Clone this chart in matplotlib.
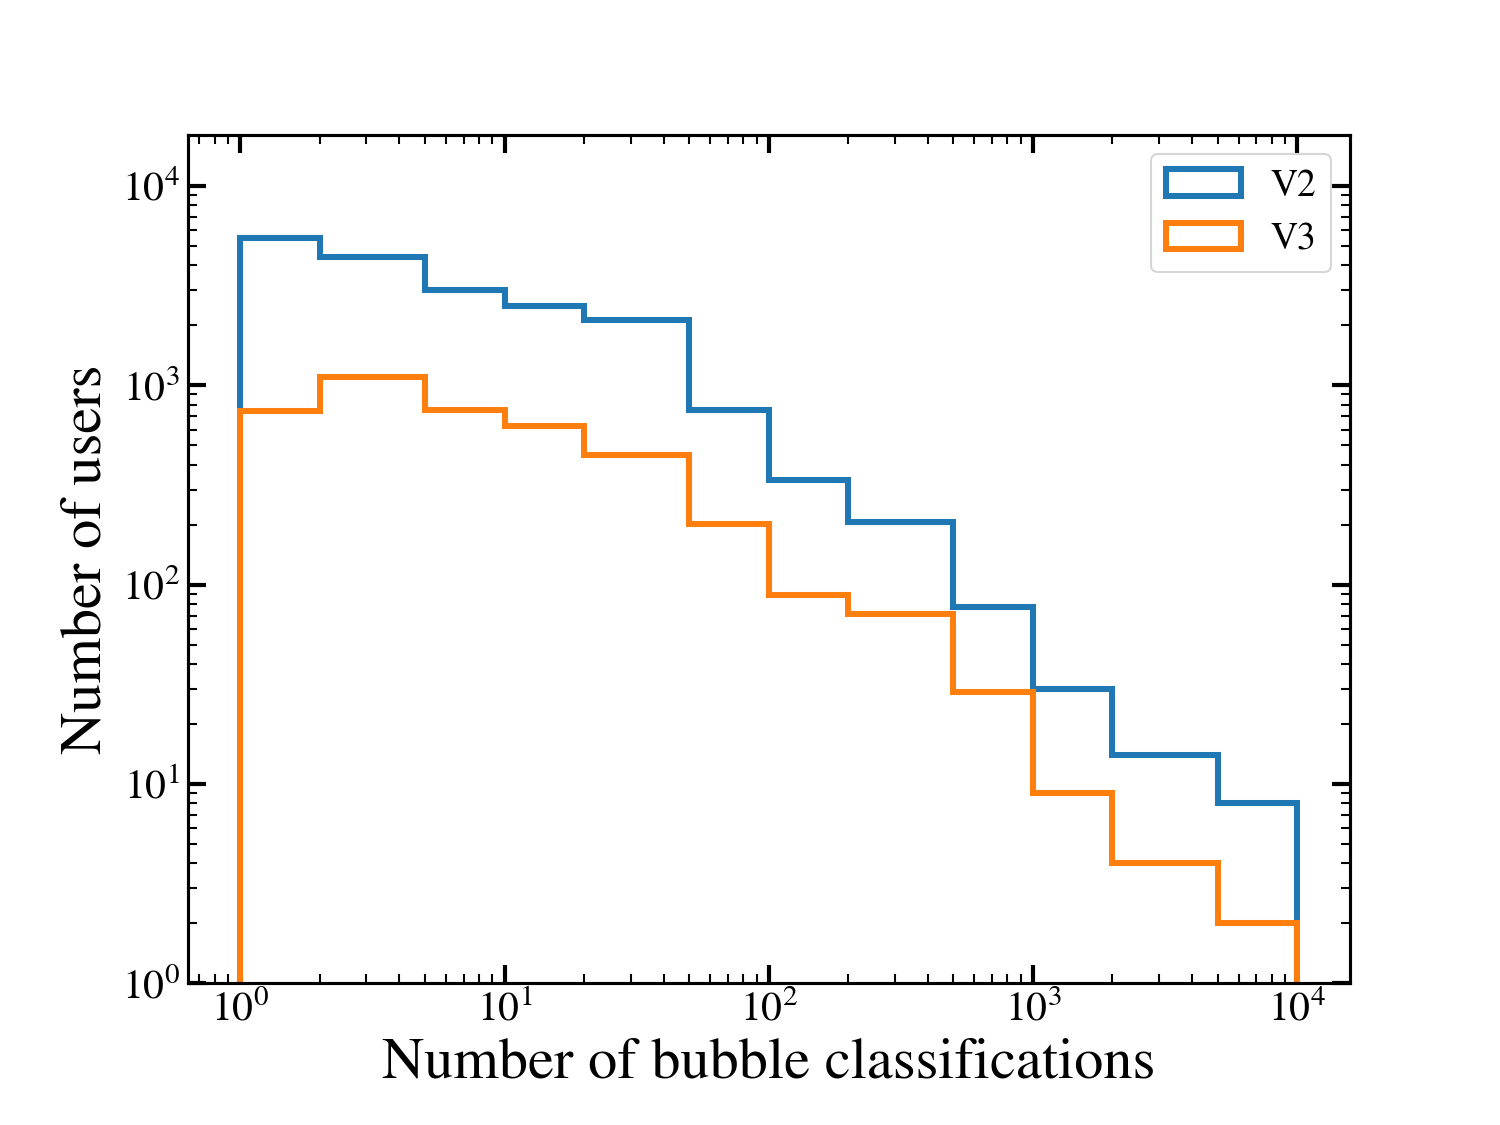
# Histogram of classifications per user, V2 vs V3
import matplotlib.pyplot as plt
import numpy as np

plt.rcParams['font.family'] = 'STIXGeneral'
plt.rcParams['mathtext.fontset'] = 'stix'

# bin edges and counts per bin
bin_edges = [1, 2, 5, 10, 20, 50, 100, 200, 500, 1000, 2000, 5000, 10000]
v2_counts = [5480, 4400, 3000, 2500, 2120, 750, 334, 207, 77, 30, 14, 8]
v3_counts = [740, 1100, 750, 625, 447, 202, 89, 71, 29, 9, 4, 2]

centers = np.sqrt(np.array(bin_edges[:-1]) * np.array(bin_edges[1:]))

fig, ax = plt.subplots(figsize=(10, 7.5), dpi=150)
fig.subplots_adjust(bottom=0.126)

ax.hist(centers, bins=bin_edges, weights=v2_counts, histtype='step',
        linewidth=2.9, color='#1f77b4', label='V2')
ax.hist(centers, bins=bin_edges, weights=v3_counts, histtype='step',
        linewidth=2.9, color='#ff7f0e', label='V3')

ax.set_xscale('log')
ax.set_yscale('log')
ax.set_xlim(10**-0.2, 10**4.2)
ax.set_ylim(1, 10**4.256)

ax.set_xlabel('Number of bubble classifications', fontsize=28)
ax.set_ylabel('Number of users', fontsize=28)

ax.tick_params(which='both', direction='in', top=True, right=True, labelsize=20)
ax.tick_params(which='major', length=8.5, width=2)
ax.tick_params(which='minor', length=4.3, width=1)
for s in ax.spines.values():
    s.set_linewidth(1.5)

ax.legend(loc='upper right', fontsize=18)

plt.savefig('out.png')
